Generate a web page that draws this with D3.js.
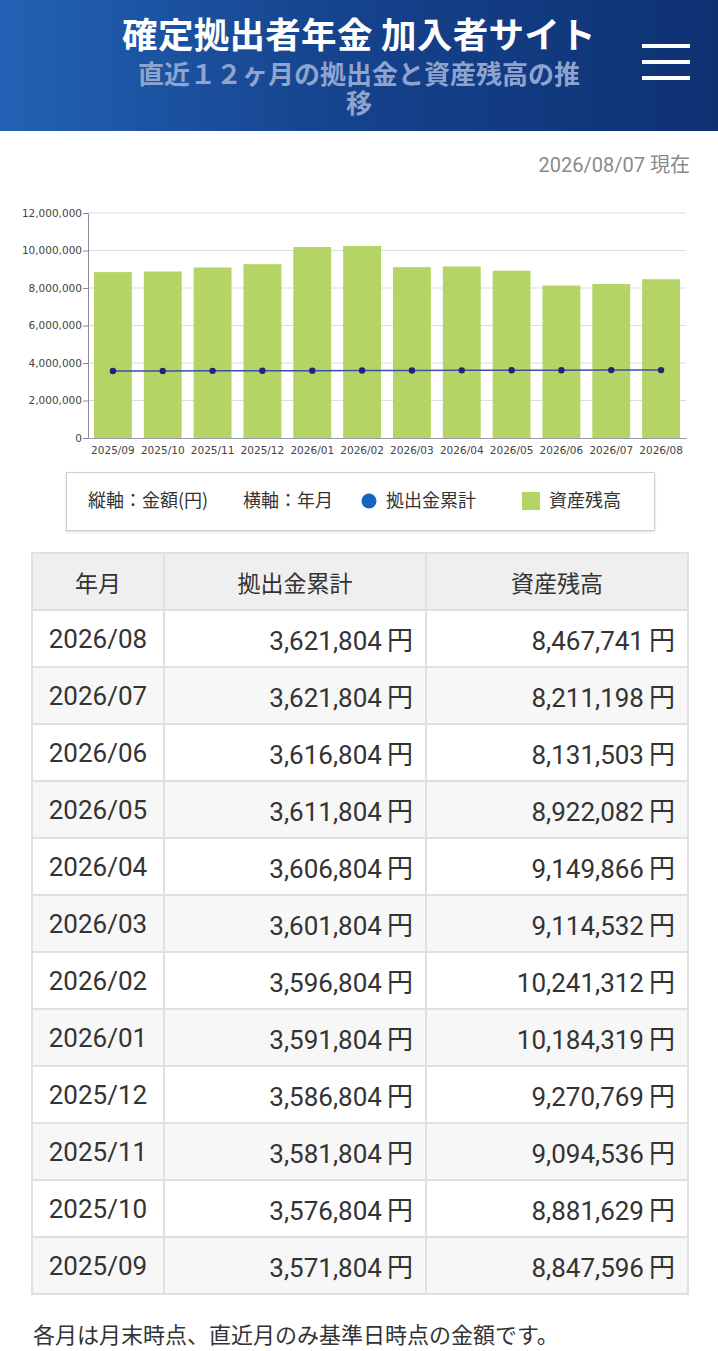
<!DOCTYPE html>
<html lang="ja">
<head>
  <meta charset="UTF-8">
  <title>直近１２ヶ月の拠出金と資産残高の推移</title>
  <script src="https://d3js.org/d3.v7.min.js"></script>
  <style>
    body {
      margin: 0;
      padding: 0;
      background: #fff;
      color: #333;
      font-family: Roboto, "Noto Sans CJK JP", sans-serif;
      width: 718px;
    }
    .header {
      position: relative;
      height: 131px;
      background: linear-gradient(90deg, #2262b4 0%, #16448f 45%, #0e3172 100%);
      text-align: center;
    }
    .header .title {
      position: absolute;
      left: 0;
      width: 718px;
      top: 14px;
      color: #fff;
      font-family: "Noto Sans CJK JP", sans-serif;
      font-weight: 700;
      font-size: 35.5px;
      line-height: 38px;
      letter-spacing: 0.3px;
    }
    .header .sub {
      position: absolute;
      left: 0;
      width: 718px;
      top: 58px;
      color: #8ea4cf;
      font-family: "Noto Sans CJK JP", sans-serif;
      font-weight: 700;
      font-size: 26px;
      line-height: 29px;
    }
    .menu {
      position: absolute;
      left: 642px;
      top: 44px;
      width: 48px;
    }
    .menu span {
      display: block;
      height: 4px;
      background: #fff;
      margin-bottom: 12px;
    }
    svg { display: block; }
    table {
      margin: 7px 0 0 31px;
      border-collapse: collapse;
      width: 658px;
      font-size: 26px;
    }
    th, td {
      border: 2px solid #e0e0e0;
      padding: 0 12px;
      color: #333;
    }
    th {
      height: 55px;
      background: #efefef;
      font-family: "Noto Sans CJK JP", sans-serif;
      font-weight: 400;
      font-size: 23px;
    }
    td { height: 55px; }
    td.ym { text-align: center; }
    td.num { text-align: right; }
    td .yen { font-family: "Noto Sans CJK JP", sans-serif; margin-left: 5px; }
    tr.alt td { background: #f7f7f7; }
    .note {
      margin: 22px 0 0 33px;
      font-family: "Noto Sans CJK JP", sans-serif;
      font-size: 22px;
      color: #333;
    }
  </style>
</head>
<body>
  <div class="header">
    <div class="title">確定拠出者年金 加入者サイト</div>
    <div class="sub">直近１２ヶ月の拠出金と資産残高の推<br>移</div>
    <div class="menu"><span></span><span></span><span></span></div>
  </div>
  <svg id="chart" width="718" height="414"></svg>
  <table id="tbl"></table>
  <div class="note">各月は月末時点、直近月のみ基準日時点の金額です。</div>

  <script>
    // 年月（古い順）
    const months = ["2025/09", "2025/10", "2025/11", "2025/12", "2026/01", "2026/02",
                    "2026/03", "2026/04", "2026/05", "2026/06", "2026/07", "2026/08"];
    // 拠出金累計
    const contributions = [3571804, 3576804, 3581804, 3586804, 3591804, 3596804,
                           3601804, 3606804, 3611804, 3616804, 3621804, 3621804];
    // 資産残高
    const balances = [8847596, 8881629, 9094536, 9270769, 10184319, 10241312,
                      9114532, 9149866, 8922082, 8131503, 8211198, 8467741];
    const yTicks = [0, 2000000, 4000000, 6000000, 8000000, 10000000, 12000000];
    const headers = ["年月", "拠出金累計", "資産残高"];
    const asOf = "2026/08/07 現在";

    const svg = d3.select("#chart");
    const fmt = d3.format(",");

    svg.append("text")
      .attr("x", 690).attr("y", 41)
      .attr("text-anchor", "end")
      .style("font-family", "Roboto, 'Noto Sans CJK JP', sans-serif")
      .style("font-size", "20px")
      .style("fill", "#8a8a8a")
      .text(asOf);

    const x = d3.scaleBand()
      .domain(months)
      .range([88, 686])
      .paddingInner(0.24)
      .paddingOuter(0.12);

    const y = d3.scaleLinear()
      .domain([0, 12000000])
      .range([307, 82]);

    // grid
    svg.append("g")
      .selectAll("line")
      .data(yTicks.filter(d => d > 0))
      .join("line")
      .attr("x1", 88).attr("x2", 686)
      .attr("y1", d => y(d)).attr("y2", d => y(d))
      .attr("stroke", "#dcdcdc")
      .attr("stroke-width", 1);

    // bars
    svg.append("g")
      .selectAll("rect")
      .data(months)
      .join("rect")
      .attr("x", d => x(d))
      .attr("width", x.bandwidth())
      .attr("y", (d, i) => y(balances[i]))
      .attr("height", (d, i) => y(0) - y(balances[i]))
      .attr("fill", "#b4d566");

    // axes
    const yAxis = svg.append("g")
      .attr("transform", "translate(88,0)")
      .call(d3.axisLeft(y).tickValues(yTicks).tickFormat(fmt).tickSize(5).tickSizeOuter(0));
    yAxis.select(".domain").attr("stroke", "#8a8a9a");
    yAxis.selectAll(".tick line").attr("stroke", "#8a8a9a");
    yAxis.selectAll("text")
      .attr("x", -6)
      .style("font-family", "'DejaVu Sans', Verdana, sans-serif")
      .style("font-size", "10.5px")
      .style("fill", "#444");

    const xAxis = svg.append("g")
      .attr("transform", `translate(0,${y(0)})`)
      .call(d3.axisBottom(x).tickSize(0).tickPadding(9));
    xAxis.select(".domain").attr("stroke", "#9a9aaa");
    xAxis.selectAll("text")
      .style("font-family", "'DejaVu Sans', Verdana, sans-serif")
      .style("font-size", "10.5px")
      .style("fill", "#444");

    // contribution line
    const line = d3.line()
      .x((d, i) => x(months[i]) + x.bandwidth() / 2)
      .y(d => y(d));

    svg.append("path")
      .datum(contributions)
      .attr("d", line)
      .attr("fill", "none")
      .attr("stroke", "#3d4fa8")
      .attr("stroke-width", 1.5);

    svg.append("g")
      .selectAll("circle")
      .data(contributions)
      .join("circle")
      .attr("cx", (d, i) => x(months[i]) + x.bandwidth() / 2)
      .attr("cy", d => y(d))
      .attr("r", 3.2)
      .attr("fill", "#1f2672");

    // legend
    const lg = svg.append("g");
    lg.append("rect")
      .attr("x", 66.5).attr("y", 341.5)
      .attr("width", 588).attr("height", 58)
      .attr("fill", "#fff")
      .attr("stroke", "#cfcfcf")
      .style("filter", "drop-shadow(0px 1px 1px rgba(0,0,0,0.15))");
    const lgText = (tx, t) => lg.append("text")
      .attr("x", tx).attr("y", 376)
      .style("font-family", "'Noto Sans CJK JP', sans-serif")
      .style("font-size", "18px")
      .style("fill", "#333")
      .text(t);
    lgText(88, "縦軸：金額(円)");
    lgText(243, "横軸：年月");
    lg.append("circle").attr("cx", 369).attr("cy", 370).attr("r", 7.5).attr("fill", "#1565c0");
    lgText(386, "拠出金累計");
    lg.append("rect").attr("x", 522).attr("y", 361).attr("width", 18).attr("height", 18).attr("fill", "#b4d566");
    lgText(549, "資産残高");

    // table (新しい順)
    const tbl = d3.select("#tbl");
    tbl.append("tr")
      .selectAll("th")
      .data(headers)
      .join("th")
      .style("width", (d, i) => i === 0 ? "106px" : "237px")
      .text(d => d);

    const rows = months.map((m, i) => ({ m, c: contributions[i], b: balances[i] })).reverse();
    const tr = tbl.selectAll("tr.row")
      .data(rows)
      .join("tr")
      .attr("class", (d, i) => i % 2 ? "row alt" : "row");
    tr.append("td").attr("class", "ym").text(d => d.m);
    tr.append("td").attr("class", "num").html(d => `${fmt(d.c)}<span class="yen">円</span>`);
    tr.append("td").attr("class", "num").html(d => `${fmt(d.b)}<span class="yen">円</span>`);
  </script>
</body>
</html>
